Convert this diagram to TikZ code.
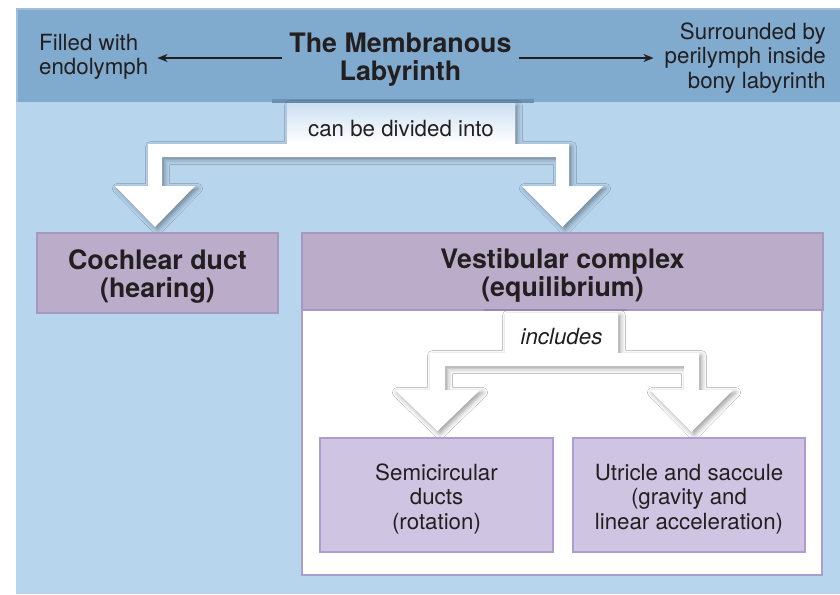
\documentclass[tikz,border=0pt]{standalone}
\usepackage{fontspec}
\setmainfont{TeX Gyre Heros}
\usetikzlibrary{arrows.meta,shadows.blur,calc}
\definecolor{bgblue}{HTML}{B8D5EE}
\definecolor{bandblue}{HTML}{80AACE}
\definecolor{bandedge}{HTML}{9DBFDD}
\definecolor{bandshade}{HTML}{6A90B2}
\definecolor{hdrpurple}{HTML}{BBADCA}
\definecolor{hdredge}{HTML}{A698BF}
\definecolor{subpurple}{HTML}{CFC4E1}
\definecolor{subedge}{HTML}{AC9ED0}
\definecolor{txt}{HTML}{231F20}
\definecolor{lblblue}{HTML}{CCE0F2}
\tikzset{
  regfont/.style={font=\fontsize{22.3}{24.5}\selectfont},
  boldfont/.style={font=\bfseries\fontsize{26.8}{28}\selectfont},
  plain/.style={text=txt, inner sep=0pt, align=center},
  hdrbox/.style={fill=hdrpurple, draw=hdredge, line width=1.5pt},
  subbox/.style={fill=subpurple, draw=subedge, line width=2pt},
  whiteshape/.style={fill=white, blur shadow={shadow xshift=2.5pt, shadow yshift=-2.5pt, shadow blur radius=5pt, shadow opacity=40}},
  sidearrow/.style={draw=txt, line width=1.4pt, -{Stealth[length=10pt,width=8pt,inset=3pt]}}
}
\begin{document}
\begin{tikzpicture}[x=1pt,y=-1pt]
\useasboundingbox (0,0) rectangle (840,594);
% background
\fill[bgblue] (16,8) rectangle (840,594);
% top band
\fill[bandblue] (16,8) rectangle (840,102);
\draw[bandedge, line width=2pt] (17,102) -- (17,9) -- (840,9);
\fill[bandshade] (272,99) rectangle (534,103);
% texts in band
\node[plain, boldfont, inner xsep=7pt] (title) at (400.5,60) {The Membranous\\Labyrinth};
\node[plain, regfont, align=left, anchor=west] (filled) at (39,57) {Filled with\\endolymph};
\node[plain, regfont, align=right, anchor=east] (surr) at (826,58) {Surrounded by\\perilymph inside\\bony labyrinth};
\draw[sidearrow, shorten >=9pt] ([yshift=2pt]title.west) -- ([yshift=2pt]title.west -| filled.east);
\draw[sidearrow, shorten >=11pt] ([yshift=2pt]title.east) -- ([yshift=2pt]title.east -| surr.west);
% first bracket arrow
\fill[whiteshape] (287,103) -- (515,103) -- (515,144) -- (569,144) -- (569,186) -- (603,186) -- (562.5,227) -- (522,186) -- (556,186) -- (556,157) -- (162,157) -- (162,186) -- (195,186) -- (155,227) -- (115,186) -- (148,186) -- (148,144) -- (287,144) -- cycle;
\node[minimum width=228pt, minimum height=41pt, top color=lblblue, middle color=white, bottom color=white, inner sep=0pt] (div) at (401,123.5) {};
\node[plain, regfont] (divT) at ([yshift=-5pt]div.center) {can be divided into};
% container
\draw[subedge, line width=2pt, fill=white] (302,309) rectangle (822,575);
% second bracket arrow
\fill[whiteshape] (505,313) -- (618,313) -- (618,353) -- (699,353) -- (699,390) -- (733,390) -- (691.5,432) -- (650,390) -- (684,390) -- (684,366) -- (445,366) -- (445,390) -- (480,390) -- (437.5,431) -- (395,390) -- (430,390) -- (430,353) -- (505,353) -- cycle;
\node[plain, font=\itshape\fontsize{22.3}{24.5}\selectfont] (incl) at (561.5,337) {includes};
% boxes
\node[hdrbox, minimum width=241pt, minimum height=80pt] (coch) at (157.5,273) {};
\node[plain, boldfont] (cochT) at ([yshift=-3pt]coch.center) {Cochlear duct\\(hearing)};
\node[hdrbox, minimum width=521pt, minimum height=77pt] (vest) at (562.5,271.5) {};
\node[plain, boldfont] (vestT) at ([yshift=-4pt]vest.center) {Vestibular complex\\(equilibrium)};
\fill[hdredge!80!black, opacity=0.5] (484,309) rectangle (627,311);
\node[subbox, minimum width=233pt, minimum height=114pt] (semi) at (436.5,495) {};
\node[plain, regfont] (semiT) at ([yshift=-4pt]semi.center) {Semicircular\\ducts\\(rotation)};
\node[subbox, minimum width=232pt, minimum height=114pt] (utr) at (689,495) {};
\node[plain, regfont] (utrT) at ([yshift=-4pt]utr.center) {Utricle and saccule\\(gravity and\\linear acceleration)};
\end{tikzpicture}
\end{document}
